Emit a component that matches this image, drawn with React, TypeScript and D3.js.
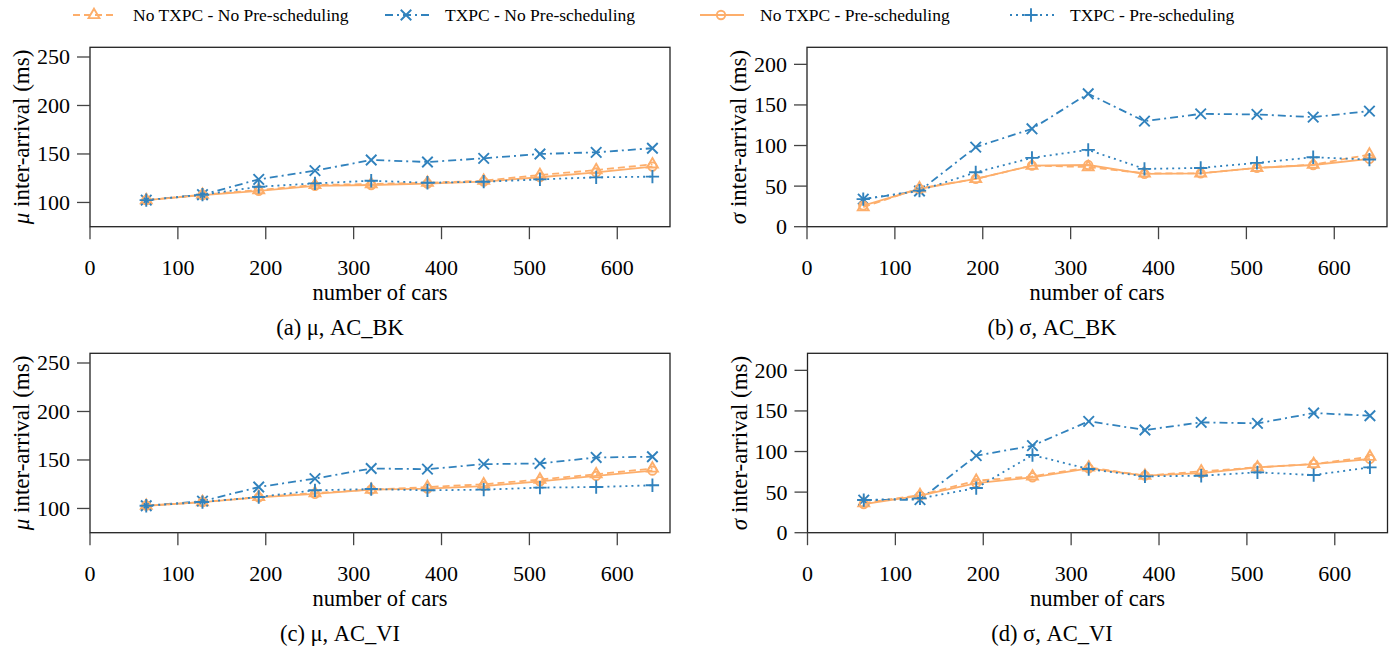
import React from 'react';
import * as d3 from 'd3';

// number of cars on the x axis
const cars = [64, 128, 192, 256, 320, 384, 448, 512, 576, 640];
const xTicks = [0, 100, 200, 300, 400, 500, 600];
const muTicks = [100, 150, 200, 250];
const sigmaTicks = [0, 50, 100, 150, 200];

const seriesNames = [
  'No TXPC - No Pre-scheduling',
  'TXPC - No Pre-scheduling',
  'No TXPC - Pre-scheduling',
  'TXPC - Pre-scheduling',
];

// (a) mu, AC_BK
const muBK_noTxpcNoPre = [102.4, 108, 112.8, 118, 119, 120.3, 122.4, 128.3, 133.4, 139.3];
const muBK_txpcNoPre = [102.4, 108, 123.8, 132.8, 143.8, 141.7, 145.5, 150, 151.7, 155.9];
const muBK_noTxpcPre = [102.4, 107.5, 112, 117, 118, 119.5, 121.5, 126, 131, 137];
const muBK_txpcPre = [102.4, 108, 116.2, 119.7, 122.4, 120.3, 121.4, 123.8, 125.9, 126.6];

// (b) sigma, AC_BK
const sigmaBK_noTxpcNoPre = [24, 47.3, 58.8, 75.3, 73.5, 65.8, 65.8, 72.4, 76.5, 88.9];
const sigmaBK_txpcNoPre = [34, 44, 98, 120.6, 163.8, 130, 139, 138.3, 135, 142.4];
const sigmaBK_noTxpcPre = [26, 46.5, 58.8, 75.3, 76, 65, 65.8, 72.4, 76, 83.5];
const sigmaBK_txpcPre = [34, 44.4, 67, 84.8, 94.6, 71.2, 72.4, 78.6, 85.6, 82.7];

// (c) mu, AC_VI
const muVI_noTxpcNoPre = [102.8, 106.6, 111.8, 115.9, 119.4, 122.1, 124.9, 129.8, 135.3, 141.2];
const muVI_txpcNoPre = [102.8, 107.6, 122.1, 130.8, 141.2, 140.5, 145.7, 146.4, 152.6, 153.3];
const muVI_noTxpcPre = [102.8, 106.6, 111.5, 115, 119.5, 120.5, 123, 128, 133.5, 139];
const muVI_txpcPre = [102.8, 106.6, 111.8, 118.7, 120, 118.7, 119.4, 121.5, 122.1, 123.9];

// (d) sigma, AC_VI
const sigmaVI_noTxpcNoPre = [36.5, 46.4, 64, 69.4, 80.5, 70.2, 75.6, 80.5, 84.6, 93.6];
const sigmaVI_txpcNoPre = [40.2, 40.7, 94.9, 107.2, 137.2, 126.5, 135.9, 134.7, 147.4, 144.1];
const sigmaVI_noTxpcPre = [35.3, 45.6, 61.2, 68.2, 79.3, 70.2, 73.5, 80.5, 84.6, 90.8];
const sigmaVI_txpcPre = [40.2, 42.3, 55, 95.7, 78.4, 69.4, 70.2, 74.3, 71, 80.5];

const BLUE = '#3182bd';
const ORANGE = '#fdae6b';
const FONT = "'Liberation Serif', 'Times New Roman', serif";

const styles = [
  { color: ORANGE, dash: '7 4', symbol: d3.symbolTriangle2, size: 85 },
  { color: BLUE, dash: '8 4 2 4', symbol: d3.symbolTimes, size: 74 },
  { color: ORANGE, dash: null, symbol: d3.symbolCircle, size: 55 },
  { color: BLUE, dash: '2 4', symbol: d3.symbolPlus, size: 60 },
];

const panels = [
  { left: 90, top: 47.3, yDomain: [75, 260], yTicks: muTicks, sym: 'μ', caption: '(a) μ, AC_BK', capX: 340,
    series: [muBK_noTxpcNoPre, muBK_txpcNoPre, muBK_noTxpcPre, muBK_txpcPre] },
  { left: 807, top: 47.3, yDomain: [0, 221], yTicks: sigmaTicks, sym: 'σ', caption: '(b) σ, AC_BK', capX: 1052,
    series: [sigmaBK_noTxpcNoPre, sigmaBK_txpcNoPre, sigmaBK_noTxpcPre, sigmaBK_txpcPre] },
  { left: 90, top: 353.3, yDomain: [75, 260], yTicks: muTicks, sym: 'μ', caption: '(c) μ, AC_VI', capX: 340,
    series: [muVI_noTxpcNoPre, muVI_txpcNoPre, muVI_noTxpcPre, muVI_txpcPre] },
  { left: 807.5, top: 353.3, yDomain: [0, 221], yTicks: sigmaTicks, sym: 'σ', caption: '(d) σ, AC_VI', capX: 1052,
    series: [sigmaVI_noTxpcNoPre, sigmaVI_txpcNoPre, sigmaVI_noTxpcPre, sigmaVI_txpcPre] },
];

const W = 580;
const H = 179.4;

const Marker = ({ x, y, st }) => (
  <path
    d={d3.symbol().type(st.symbol).size(st.size)()}
    transform={`translate(${x},${y})`}
    fill="none"
    stroke={st.color}
    strokeWidth={1.9}
  />
);

const Panel = ({ p }) => {
  const x = d3.scaleLinear().domain([0, 660]).range([p.left, p.left + W]);
  const y = d3.scaleLinear().domain(p.yDomain).range([p.top + H, p.top]);
  const bottom = p.top + H;
  return (
    <g>
      {/* frame */}
      <rect x={p.left} y={p.top} width={W} height={H} fill="none" stroke="#222" strokeWidth={1.3} />
      {xTicks.map(t => (
        <g key={'x' + t}>
          <line x1={x(t)} x2={x(t)} y1={bottom} y2={bottom + 12.5} stroke="#444" strokeWidth={1.3} />
          <text x={x(t)} y={bottom + 48} textAnchor="middle" fontSize={22}>{t}</text>
        </g>
      ))}
      {p.yTicks.map(t => (
        <g key={'y' + t}>
          <line x1={p.left - 13} x2={p.left} y1={y(t)} y2={y(t)} stroke="#444" strokeWidth={1.3} />
          <text x={p.left - 20} y={y(t) + 7.5} textAnchor="end" fontSize={22}>{t}</text>
        </g>
      ))}
      <text
        transform={`translate(${p.left - 61},${p.top + H / 2}) rotate(-90)`}
        textAnchor="middle"
        fontSize={23}
      >
        <tspan fontStyle="italic">{p.sym}</tspan> inter-arrival (ms)
      </text>
      <text x={p.left + W / 2} y={bottom + 73} textAnchor="middle" fontSize={22.5}>number of cars</text>
      <text x={p.capX} y={bottom + 108} textAnchor="middle" fontSize={22.5}>{p.caption}</text>
      {p.series.map((vals, si) => {
        const st = styles[si];
        const pts = cars.map((c, i) => [x(c), y(vals[i])]);
        const line = d3.line()(pts);
        return (
          <g key={si}>
            <path d={line} fill="none" stroke={st.color} strokeWidth={1.8} strokeDasharray={st.dash || undefined} />
            {pts.map((pt, i) => <Marker key={i} x={pt[0]} y={pt[1]} st={st} />)}
          </g>
        );
      })}
    </g>
  );
};

const legendX = [73, 385, 700, 1010];

const Legend = () => (
  <g>
    {seriesNames.map((name, i) => {
      const st = styles[i];
      const x0 = legendX[i];
      return (
        <g key={name}>
          <line x1={x0} x2={x0 + 44} y1={15} y2={15} stroke={st.color} strokeWidth={1.8}
            strokeDasharray={st.dash || undefined} />
          <Marker x={x0 + 21} y={15} st={st} />
          <text x={x0 + 60} y={21} fontSize={17.5}>{name}</text>
        </g>
      );
    })}
  </g>
);

export default function App() {
  return (
    <svg
      width={1400}
      height={648}
      style={{ position: 'absolute', left: 0, top: 0, background: '#fff', fontFamily: FONT }}
    >
      <Legend />
      {panels.map((p, i) => <Panel key={i} p={p} />)}
    </svg>
  );
}
